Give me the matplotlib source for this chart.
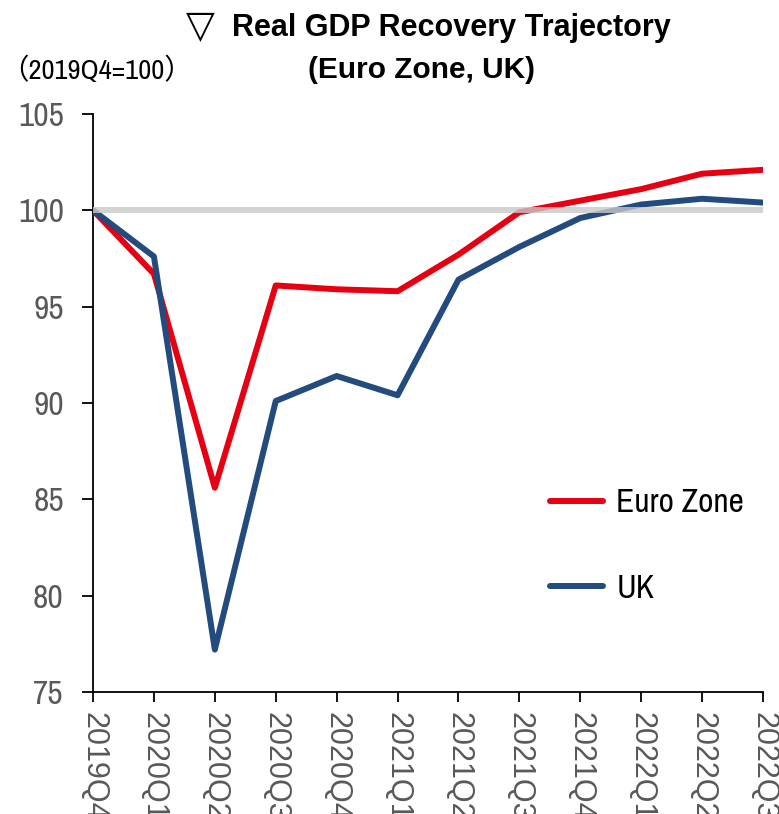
import numpy as np
import matplotlib
matplotlib.use('Agg')
import matplotlib.pyplot as plt
from matplotlib import font_manager

quarters = ['2019Q4', '2020Q1', '2020Q2', '2020Q3', '2020Q4', '2021Q1',
            '2021Q2', '2021Q3', '2021Q4', '2022Q1', '2022Q2', '2022Q3']
euro_zone = [100.0, 96.7, 85.6, 96.1, 95.9, 95.8, 97.7, 99.9, 100.5, 101.1, 101.9, 102.1]
uk = [100.0, 97.6, 77.2, 90.1, 91.4, 90.4, 96.4, 98.1, 99.6, 100.3, 100.6, 100.4]
y_ticks = [75, 80, 85, 90, 95, 100, 105]

# narrow sans for the axis numbers and legend
installed = {f.name for f in font_manager.fontManager.ttflist}
narrow_candidates = ['Arial Narrow', 'Liberation Sans Narrow', 'Archivo Narrow',
                     'PT Sans Narrow', 'Roboto Condensed']
narrow = next((n for n in narrow_candidates if n in installed), 'Liberation Sans')

plt.rcParams['font.family'] = [narrow, 'Noto Sans CJK JP', 'DejaVu Sans']

fig = plt.figure(figsize=(7.79, 8.14), dpi=100)
ax = fig.add_axes([0.1194, 0.1499, 0.8601, 0.7101])

x = np.arange(len(quarters))
ax.plot(x, euro_zone, color='#E60012', lw=4.3, label='Euro Zone', solid_capstyle='round', zorder=3)
ax.plot(x, uk, color='#234B7E', lw=4.3, label='UK', solid_capstyle='round', zorder=3)
ax.axhline(100, color='#C8C8C8', lw=4.3, alpha=0.8, zorder=4)

ax.set_xlim(0, len(quarters) - 1)
ax.set_ylim(75, 105)
ax.set_yticks(y_ticks)
ax.set_xticks(x)
ax.set_xticklabels(quarters, rotation=-90, family='Liberation Sans', fontsize=22, color='#595959')
ax.tick_params(axis='y', labelsize=24, colors='#595959', length=8, width=1.3, pad=13)
ax.tick_params(axis='x', length=7.5, width=1.3, pad=7)
ax.tick_params(axis='both', color='black')

for s in ['top', 'right']:
    ax.spines[s].set_visible(False)
for s in ['left', 'bottom']:
    ax.spines[s].set_linewidth(1.3)

ax.legend(loc='center left', bbox_to_anchor=(0.637, 0.252), frameon=False,
          fontsize=24, handlelength=1.6, handletextpad=0.4, labelspacing=1.67)

# title: marker triangle, then the two bold lines
title_font = ['Liberation Sans', 'DejaVu Sans']
fig.text(0.257, 0.967, '▽', ha='center', va='center', fontsize=27, family='DejaVu Sans')
fig.text(0.298, 0.965, 'Real GDP Recovery Trajectory', ha='left', va='center',
         fontsize=22, fontweight='bold', family=title_font)
fig.text(0.541, 0.914, '(Euro Zone, UK)', ha='center', va='center',
         fontsize=21.5, fontweight='bold', family=title_font)
fig.text(0.0, 0.914, '（2019Q4=100）', ha='left', va='center', fontsize=20.5)

fig.savefig('out.png', dpi=100)
